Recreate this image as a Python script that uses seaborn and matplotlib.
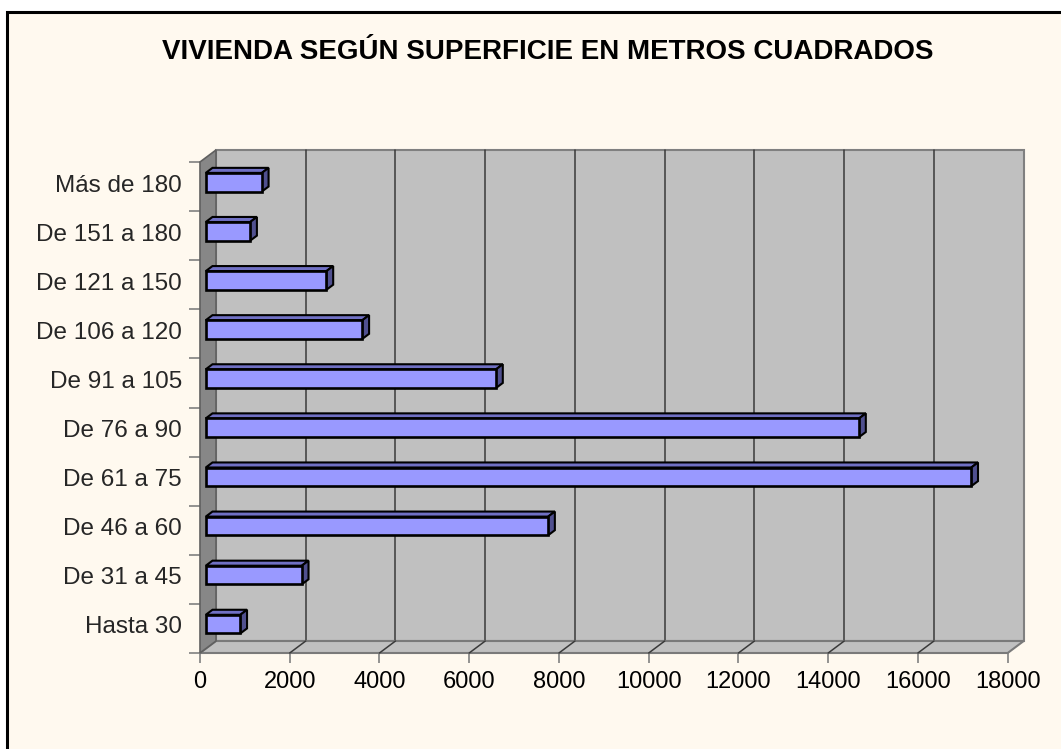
import matplotlib
matplotlib.use("Agg")
import matplotlib.pyplot as plt
import seaborn as sns
import pandas as pd
from matplotlib.patches import Polygon, Rectangle
from matplotlib.transforms import ScaledTranslation

# ---- data (top to bottom as drawn) ----
categories = ["Más de 180", "De 151 a 180", "De 121 a 150", "De 106 a 120",
              "De 91 a 105", "De 76 a 90", "De 61 a 75", "De 46 a 60",
              "De 31 a 45", "Hasta 30"]
values = [1250, 990, 2690, 3490, 6470, 14560, 17060, 7630, 2140, 770]
xticks = list(range(0, 18001, 2000))
title = "VIVIENDA SEGÚN SUPERFICIE EN METROS CUADRADOS"

sns.set_style("white")
plt.rcParams["font.family"] = ["Liberation Sans", "DejaVu Sans"]

W, H, DPI = 1061, 749, 100
fig = plt.figure(figsize=(W / DPI, H / DPI), dpi=DPI, facecolor="white")

# chart area background with black border (left/top visible)
cream = "#FFF9EF"
fig.patches.append(Rectangle((6.5 / W, -0.02), 1.1, (H - 11.5) / H + 0.02,
                             transform=fig.transFigure, facecolor=cream,
                             edgecolor="black", linewidth=2.2, zorder=-5))

# front plane geometry (pixels)
fx0, fx1 = 200.0, 1007.7
fy_top, fy_bot = 162.0, 653.0
ax = fig.add_axes([fx0 / W, (H - fy_bot) / H, (fx1 - fx0) / W, (fy_bot - fy_top) / H])
ax.patch.set_visible(False)
for s in ax.spines.values():
    s.set_visible(False)

xmax = xticks[-1]
n = len(categories)
df = pd.DataFrame({"cat": categories, "val": values})
sns.barplot(data=df, x="val", y="cat", order=categories, orient="h",
            color="#9999FF", saturation=1, edgecolor="black", linewidth=1.9,
            width=0.38, ax=ax, zorder=5)
ax.set_xlim(0, xmax)
ax.set_ylim(n - 0.5, -0.5)

pxx = (fx1 - fx0) / xmax          # px per x unit
pxy = (fy_bot - fy_top) / n       # px per category


def off(dx_px, dy_px_up):
    return dx_px / pxx, -dy_px_up / pxy


DXw, DYw = off(16, 12)            # full depth
f1, f2 = 0.36, 0.78               # bar front / back depth fraction
b1x, b1y = DXw * f1, DYw * f1
b2x, b2y = DXw * f2, DYw * f2

y0, y1 = -0.5, n - 0.5
wall_c = "#C0C0C0"
# back wall
ax.add_patch(Polygon([(DXw, y0 + DYw), (xmax + DXw, y0 + DYw), (xmax + DXw, y1 + DYw),
                      (DXw, y1 + DYw)], closed=True, facecolor=wall_c,
                     edgecolor="#808080", linewidth=1.5, zorder=1, clip_on=False))
# floor
ax.add_patch(Polygon([(0, y1), (xmax, y1), (xmax + DXw, y1 + DYw), (DXw, y1 + DYw)],
                     closed=True, facecolor=wall_c, edgecolor="#7a7a7a",
                     linewidth=1.5, zorder=2, clip_on=False))
# left side wall
ax.add_patch(Polygon([(0, y0), (DXw, y0 + DYw), (DXw, y1 + DYw), (0, y1)],
                     closed=True, facecolor="#878787", edgecolor="#606060",
                     linewidth=1.2, zorder=3, clip_on=False))
# gridlines on back wall and floor
for t in xticks[1:-1]:
    ax.plot([t + DXw, t + DXw], [y0 + DYw, y1 + DYw], color="#3a3a3a", lw=1.1,
            zorder=1.5, clip_on=False)
    ax.plot([t, t + DXw], [y1, y1 + DYw], color="#3a3a3a", lw=1.1,
            zorder=2.5, clip_on=False)

# shift bars to their depth and add top/side faces
bars = [p for p in ax.patches if isinstance(p, Rectangle) and p.get_zorder() == 5]
for p in bars:
    x, y, w, h = p.get_x(), p.get_y(), p.get_width(), p.get_height()
    p.set_x(x + b1x)
    p.set_y(y + b1y)
    yt, yb = y, y + h
    top = [(x + b1x, yt + b1y), (x + w + b1x, yt + b1y),
           (x + w + b2x, yt + b2y), (x + b2x, yt + b2y)]
    side = [(x + w + b1x, yt + b1y), (x + w + b2x, yt + b2y),
            (x + w + b2x, yb + b2y), (x + w + b1x, yb + b1y)]
    ax.add_patch(Polygon(top, closed=True, facecolor="#7070C4", edgecolor="black",
                         linewidth=1.5, zorder=4.8, clip_on=False))
    ax.add_patch(Polygon(side, closed=True, facecolor="#50508F", edgecolor="black",
                         linewidth=1.5, zorder=4.8, clip_on=False))

# axes ticks / labels
ax.set_xticks(xticks)
ax.set_xticklabels([str(t) for t in xticks], fontsize=17)
ax.tick_params(axis="x", bottom=True, length=7, width=1.2, color="#808080",
               pad=6, labelcolor="black")
ax.set_yticks(range(n))
ax.set_yticklabels(categories, fontsize=17.5)
ax.set_yticks([i - 0.5 for i in range(n + 1)], minor=True)
ax.tick_params(axis="y", which="major", left=False, length=0, pad=13)
ax.tick_params(axis="y", which="minor", left=True, length=8, width=1.2, color="#808080")
for lbl in ax.get_yticklabels():
    lbl.set_transform(lbl.get_transform() + ScaledTranslation(0, 3.5 / DPI, fig.dpi_scale_trans))
ax.set_xlabel("")
ax.set_ylabel("")

fig.text(548 / W, 1 - 52 / H, title, ha="center", va="center", fontsize=20,
         fontweight="bold", color="black")

fig.savefig("out.png", dpi=DPI, facecolor=fig.get_facecolor())
